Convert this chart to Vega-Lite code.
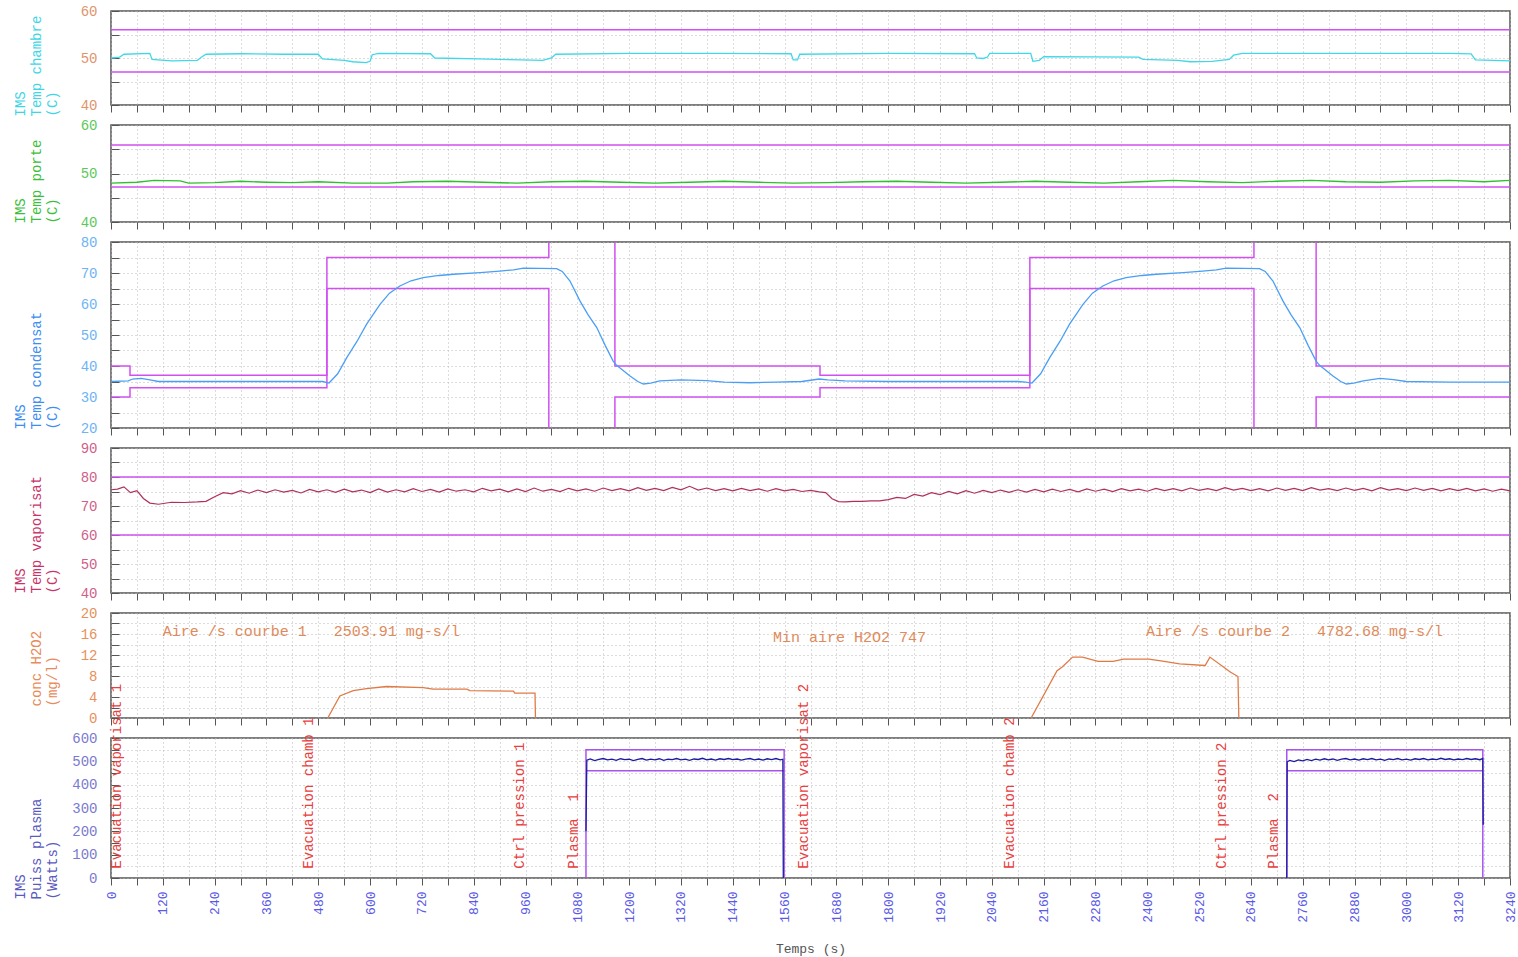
{
  "$schema": "https://vega.github.io/schema/vega-lite/v6.json",
  "background": "white",
  "padding": {"left": 12, "top": 3, "right": 4, "bottom": 2},
  "spacing": 20,
  "bounds": "flush",
  "datasets": {
    "chambre": [
      {"t":0,"v":50.0},{"t":20,"v":50.2},{"t":30,"v":50.8},{"t":90,"v":51.0},{"t":95,"v":49.7},{"t":140,"v":49.4},{"t":200,"v":49.5},{"t":210,"v":50.2},{"t":220,"v":50.8},{"t":300,"v":50.9},{"t":400,"v":50.8},{"t":480,"v":50.8},{"t":490,"v":49.8},{"t":540,"v":49.5},{"t":560,"v":49.2},{"t":590,"v":49.0},{"t":600,"v":49.3},{"t":605,"v":50.7},{"t":620,"v":51.0},{"t":740,"v":50.9},{"t":750,"v":50.0},{"t":850,"v":49.8},{"t":950,"v":49.6},{"t":1000,"v":49.5},{"t":1020,"v":50.0},{"t":1030,"v":50.8},{"t":1200,"v":51.0},{"t":1400,"v":51.0},{"t":1575,"v":50.9},{"t":1580,"v":49.6},{"t":1590,"v":49.6},{"t":1595,"v":50.8},{"t":1800,"v":51.0},{"t":2000,"v":50.9},{"t":2005,"v":50.0},{"t":2020,"v":49.9},{"t":2030,"v":50.2},{"t":2035,"v":51.0},{"t":2130,"v":51.0},{"t":2135,"v":49.3},{"t":2150,"v":49.5},{"t":2160,"v":50.3},{"t":2380,"v":50.2},{"t":2390,"v":49.7},{"t":2470,"v":49.5},{"t":2500,"v":49.2},{"t":2550,"v":49.3},{"t":2590,"v":49.7},{"t":2600,"v":50.6},{"t":2620,"v":51.0},{"t":3100,"v":51.0},{"t":3150,"v":50.9},{"t":3160,"v":49.6},{"t":3240,"v":49.4}
    ],
    "lim1": [
      {"t":0,"v":56,"seg":"a"},{"t":3240,"v":56,"seg":"a"},{"t":0,"v":47,"seg":"b"},{"t":3240,"v":47,"seg":"b"}
    ],
    "porte": [
      {"t":0,"v":48.0},{"t":60,"v":48.2},{"t":100,"v":48.6},{"t":160,"v":48.5},{"t":180,"v":48.0},{"t":240,"v":48.1},{"t":300,"v":48.4},{"t":360,"v":48.2},{"t":420,"v":48.1},{"t":480,"v":48.3},{"t":560,"v":48.0},{"t":640,"v":48.0},{"t":700,"v":48.3},{"t":780,"v":48.4},{"t":860,"v":48.2},{"t":940,"v":48.0},{"t":1020,"v":48.3},{"t":1100,"v":48.4},{"t":1180,"v":48.2},{"t":1260,"v":48.0},{"t":1340,"v":48.2},{"t":1420,"v":48.4},{"t":1500,"v":48.2},{"t":1580,"v":48.0},{"t":1660,"v":48.1},{"t":1740,"v":48.3},{"t":1820,"v":48.4},{"t":1900,"v":48.2},{"t":1980,"v":48.0},{"t":2060,"v":48.2},{"t":2140,"v":48.4},{"t":2220,"v":48.2},{"t":2300,"v":48.0},{"t":2380,"v":48.3},{"t":2460,"v":48.6},{"t":2540,"v":48.3},{"t":2620,"v":48.1},{"t":2700,"v":48.4},{"t":2780,"v":48.6},{"t":2860,"v":48.3},{"t":2940,"v":48.2},{"t":3020,"v":48.5},{"t":3100,"v":48.6},{"t":3180,"v":48.3},{"t":3240,"v":48.6}
    ],
    "lim2": [
      {"t":0,"v":55.9,"seg":"a"},{"t":3240,"v":55.9,"seg":"a"},{"t":0,"v":47.2,"seg":"b"},{"t":3240,"v":47.2,"seg":"b"}
    ],
    "condensat": [
      {"t":0,"v":35.0},{"t":40,"v":35.2},{"t":50,"v":35.8},{"t":70,"v":36.0},{"t":90,"v":35.5},{"t":110,"v":35.0},{"t":200,"v":35.0},{"t":300,"v":35.0},{"t":400,"v":35.0},{"t":490,"v":35.0},{"t":505,"v":34.5},{"t":525,"v":37.5},{"t":546,"v":42.7},{"t":570,"v":48.0},{"t":592,"v":53.5},{"t":623,"v":59.9},{"t":645,"v":63.5},{"t":669,"v":65.8},{"t":695,"v":67.5},{"t":723,"v":68.5},{"t":760,"v":69.2},{"t":793,"v":69.6},{"t":855,"v":70.1},{"t":900,"v":70.6},{"t":932,"v":71.0},{"t":955,"v":71.6},{"t":1032,"v":71.4},{"t":1045,"v":70.5},{"t":1063,"v":67.4},{"t":1086,"v":61.0},{"t":1105,"v":56.5},{"t":1125,"v":52.4},{"t":1145,"v":46.5},{"t":1163,"v":41.6},{"t":1171,"v":40.2},{"t":1202,"v":36.8},{"t":1220,"v":35.0},{"t":1233,"v":34.2},{"t":1250,"v":34.5},{"t":1271,"v":35.2},{"t":1320,"v":35.5},{"t":1380,"v":35.3},{"t":1420,"v":34.8},{"t":1480,"v":34.6},{"t":1540,"v":34.8},{"t":1600,"v":35.0},{"t":1640,"v":35.8},{"t":1660,"v":35.5},{"t":1700,"v":35.2},{"t":1800,"v":35.0},{"t":1900,"v":35.0},{"t":2000,"v":35.0},{"t":2100,"v":35.0},{"t":2118,"v":34.8},{"t":2133,"v":34.5},{"t":2153,"v":37.5},{"t":2174,"v":42.7},{"t":2198,"v":48.0},{"t":2220,"v":53.5},{"t":2251,"v":59.9},{"t":2273,"v":63.5},{"t":2297,"v":65.8},{"t":2323,"v":67.5},{"t":2351,"v":68.5},{"t":2388,"v":69.2},{"t":2421,"v":69.6},{"t":2483,"v":70.1},{"t":2528,"v":70.6},{"t":2560,"v":71.0},{"t":2583,"v":71.6},{"t":2660,"v":71.4},{"t":2673,"v":70.5},{"t":2691,"v":67.4},{"t":2714,"v":61.0},{"t":2733,"v":56.5},{"t":2753,"v":52.4},{"t":2773,"v":46.5},{"t":2791,"v":41.6},{"t":2799,"v":40.2},{"t":2830,"v":36.8},{"t":2848,"v":35.0},{"t":2861,"v":34.2},{"t":2878,"v":34.5},{"t":2900,"v":35.2},{"t":2939,"v":36.0},{"t":2970,"v":35.6},{"t":3000,"v":35.0},{"t":3100,"v":34.8},{"t":3240,"v":34.8}
    ],
    "lim3": [
      {"t":0,"v":40,"seg":"a"},{"t":44,"v":40,"seg":"a"},{"t":44,"v":37,"seg":"a"},{"t":500,"v":37,"seg":"a"},{"t":500,"v":75,"seg":"a"},{"t":1014,"v":75,"seg":"a"},{"t":1014,"v":80,"seg":"a"},
      {"t":1167,"v":80,"seg":"b"},{"t":1167,"v":40,"seg":"b"},{"t":1642,"v":40,"seg":"b"},{"t":1642,"v":37,"seg":"b"},{"t":2128,"v":37,"seg":"b"},{"t":2128,"v":75,"seg":"b"},{"t":2647,"v":75,"seg":"b"},{"t":2647,"v":80,"seg":"b"},
      {"t":2791,"v":80,"seg":"c"},{"t":2791,"v":40,"seg":"c"},{"t":3240,"v":40,"seg":"c"},
      {"t":0,"v":30,"seg":"d"},{"t":44,"v":30,"seg":"d"},{"t":44,"v":33,"seg":"d"},{"t":500,"v":33,"seg":"d"},{"t":500,"v":65,"seg":"d"},{"t":1014,"v":65,"seg":"d"},{"t":1014,"v":20,"seg":"d"},
      {"t":1167,"v":20,"seg":"e"},{"t":1167,"v":30,"seg":"e"},{"t":1642,"v":30,"seg":"e"},{"t":1642,"v":33,"seg":"e"},{"t":2128,"v":33,"seg":"e"},{"t":2128,"v":65,"seg":"e"},{"t":2647,"v":65,"seg":"e"},{"t":2647,"v":20,"seg":"e"},
      {"t":2791,"v":20,"seg":"f"},{"t":2791,"v":30,"seg":"f"},{"t":3240,"v":30,"seg":"f"}
    ],
    "vapo": [
      {"t":0,"v":75.6},{"t":15,"v":75.8},{"t":30,"v":76.6},{"t":45,"v":74.6},{"t":60,"v":75.3},{"t":75,"v":72.6},{"t":90,"v":71.0},{"t":110,"v":70.6},{"t":140,"v":71.3},{"t":170,"v":71.2},{"t":200,"v":71.4},{"t":220,"v":71.6},{"t":240,"v":73.2},{"t":260,"v":74.6},
      {"t":280,"v":74.2},{"t":300,"v":75.3},{"t":320,"v":74.4},{"t":340,"v":75.5},{"t":360,"v":74.6},{"t":380,"v":75.6},{"t":400,"v":74.8},{"t":420,"v":75.4},{"t":440,"v":74.5},{"t":460,"v":75.7},{"t":480,"v":74.9},{"t":500,"v":75.6},{"t":520,"v":74.7},{"t":540,"v":75.8},{"t":560,"v":74.9},{"t":580,"v":75.5},{"t":600,"v":74.6},{"t":620,"v":75.9},{"t":640,"v":74.8},{"t":660,"v":75.6},{"t":680,"v":74.9},{"t":700,"v":76.0},{"t":720,"v":75.0},{"t":740,"v":75.7},{"t":760,"v":74.8},{"t":780,"v":75.9},{"t":800,"v":75.1},{"t":820,"v":75.6},{"t":840,"v":74.9},{"t":860,"v":76.1},{"t":880,"v":75.2},{"t":900,"v":75.8},{"t":920,"v":74.9},{"t":940,"v":75.9},{"t":960,"v":75.0},{"t":980,"v":76.2},{"t":1000,"v":75.1},{"t":1020,"v":75.7},{"t":1040,"v":75.0},{"t":1060,"v":76.1},{"t":1080,"v":75.2},{"t":1100,"v":75.9},{"t":1120,"v":75.1},{"t":1140,"v":76.2},{"t":1160,"v":75.3},{"t":1180,"v":76.0},{"t":1200,"v":75.2},{"t":1220,"v":76.3},{"t":1240,"v":75.4},{"t":1260,"v":76.1},{"t":1280,"v":75.3},{"t":1300,"v":76.4},{"t":1320,"v":75.6},{"t":1340,"v":76.8},{"t":1360,"v":75.5},{"t":1380,"v":76.2},{"t":1400,"v":75.3},{"t":1420,"v":76.0},{"t":1440,"v":75.2},{"t":1460,"v":76.1},{"t":1480,"v":75.3},{"t":1500,"v":75.9},{"t":1520,"v":75.1},{"t":1540,"v":76.0},{"t":1560,"v":75.2},{"t":1580,"v":75.7},{"t":1600,"v":75.0},{"t":1620,"v":75.4},{"t":1640,"v":74.9},{"t":1655,"v":74.6},{"t":1670,"v":72.5},{"t":1685,"v":71.5},{"t":1700,"v":71.4},{"t":1720,"v":71.6},{"t":1740,"v":71.6},{"t":1760,"v":71.8},{"t":1780,"v":71.8},{"t":1800,"v":72.2},{"t":1820,"v":73.0},{"t":1840,"v":72.6},{"t":1860,"v":74.0},{"t":1880,"v":73.4},{"t":1900,"v":74.6},{"t":1920,"v":73.9},{"t":1940,"v":75.0},{"t":1960,"v":74.2},{"t":1980,"v":75.3},{"t":2000,"v":74.4},{"t":2020,"v":75.4},{"t":2040,"v":74.6},{"t":2060,"v":75.5},{"t":2080,"v":74.7},{"t":2100,"v":75.6},{"t":2120,"v":74.8},{"t":2140,"v":75.7},{"t":2160,"v":74.9},{"t":2180,"v":75.8},{"t":2200,"v":75.0},{"t":2220,"v":75.7},{"t":2240,"v":74.9},{"t":2260,"v":75.9},{"t":2280,"v":75.1},{"t":2300,"v":75.8},{"t":2320,"v":75.0},{"t":2340,"v":76.0},{"t":2360,"v":75.2},{"t":2380,"v":75.8},{"t":2400,"v":75.1},{"t":2420,"v":76.1},{"t":2440,"v":75.3},{"t":2460,"v":76.0},{"t":2480,"v":75.2},{"t":2500,"v":76.2},{"t":2520,"v":75.4},{"t":2540,"v":76.0},{"t":2560,"v":75.3},{"t":2580,"v":76.3},{"t":2600,"v":75.5},{"t":2620,"v":76.1},{"t":2640,"v":75.3},{"t":2660,"v":76.0},{"t":2680,"v":75.2},{"t":2700,"v":76.2},{"t":2720,"v":75.4},{"t":2740,"v":76.1},{"t":2760,"v":75.3},{"t":2780,"v":76.3},{"t":2800,"v":75.5},{"t":2820,"v":76.0},{"t":2840,"v":75.3},{"t":2860,"v":76.2},{"t":2880,"v":75.4},{"t":2900,"v":76.1},{"t":2920,"v":75.2},{"t":2940,"v":76.3},{"t":2960,"v":75.5},{"t":2980,"v":76.0},{"t":3000,"v":75.3},{"t":3020,"v":76.2},{"t":3040,"v":75.4},{"t":3060,"v":76.1},{"t":3080,"v":75.2},{"t":3100,"v":76.0},{"t":3120,"v":75.3},{"t":3140,"v":76.1},{"t":3160,"v":75.2},{"t":3180,"v":75.9},{"t":3200,"v":75.1},{"t":3220,"v":75.8},{"t":3240,"v":75.2}
    ],
    "lim4": [
      {"t":0,"v":80,"seg":"a"},{"t":3240,"v":80,"seg":"a"},{"t":0,"v":60,"seg":"b"},{"t":3240,"v":60,"seg":"b"}
    ],
    "h2o2": [
      {"t":502,"v":0,"seg":"a"},{"t":530,"v":4.2,"seg":"a"},{"t":561,"v":5.2,"seg":"a"},{"t":592,"v":5.6,"seg":"a"},{"t":638,"v":6.0,"seg":"a"},{"t":723,"v":5.8,"seg":"a"},{"t":746,"v":5.5,"seg":"a"},{"t":824,"v":5.5,"seg":"a"},{"t":831,"v":5.2,"seg":"a"},{"t":932,"v":5.1,"seg":"a"},{"t":935,"v":4.75,"seg":"a"},{"t":982,"v":4.75,"seg":"a"},{"t":983,"v":0,"seg":"a"},
      {"t":2131,"v":0,"seg":"b"},{"t":2191,"v":9.0,"seg":"b"},{"t":2203,"v":9.7,"seg":"b"},{"t":2227,"v":11.6,"seg":"b"},{"t":2250,"v":11.6,"seg":"b"},{"t":2286,"v":10.8,"seg":"b"},{"t":2321,"v":10.8,"seg":"b"},{"t":2345,"v":11.2,"seg":"b"},{"t":2404,"v":11.2,"seg":"b"},{"t":2439,"v":10.8,"seg":"b"},{"t":2475,"v":10.3,"seg":"b"},{"t":2534,"v":10.0,"seg":"b"},{"t":2545,"v":11.6,"seg":"b"},{"t":2593,"v":8.7,"seg":"b"},{"t":2610,"v":7.9,"seg":"b"},{"t":2612,"v":0,"seg":"b"}
    ],
    "notes": [
      {"t":120,"v":16.6,"label":"Aire /s courbe 1\u00a0\u00a0\u00a02503.91 mg-s/l"},
      {"t":1533,"v":15.4,"label":"Min aire H2O2 747"},
      {"t":2397,"v":16.6,"label":"Aire /s courbe 2\u00a0\u00a0\u00a04782.68 mg-s/l"}
    ],
    "plasma": [
      {"t":1100,"v":200,"seg":"a"},{"t":1102,"v":505,"seg":"a"},{"t":1110,"v":510,"seg":"a"},{"t":1120,"v":503,"seg":"a"},{"t":1130,"v":508,"seg":"a"},{"t":1140,"v":512,"seg":"a"},{"t":1150,"v":506,"seg":"a"},{"t":1160,"v":509,"seg":"a"},{"t":1170,"v":504,"seg":"a"},{"t":1180,"v":511,"seg":"a"},{"t":1190,"v":507,"seg":"a"},{"t":1200,"v":509,"seg":"a"},{"t":1210,"v":503,"seg":"a"},{"t":1220,"v":508,"seg":"a"},{"t":1230,"v":512,"seg":"a"},{"t":1240,"v":505,"seg":"a"},{"t":1250,"v":509,"seg":"a"},{"t":1260,"v":506,"seg":"a"},{"t":1270,"v":511,"seg":"a"},{"t":1280,"v":504,"seg":"a"},{"t":1290,"v":509,"seg":"a"},{"t":1300,"v":507,"seg":"a"},{"t":1310,"v":512,"seg":"a"},{"t":1320,"v":506,"seg":"a"},{"t":1330,"v":509,"seg":"a"},{"t":1340,"v":504,"seg":"a"},{"t":1350,"v":510,"seg":"a"},{"t":1360,"v":508,"seg":"a"},{"t":1370,"v":513,"seg":"a"},{"t":1380,"v":506,"seg":"a"},{"t":1390,"v":510,"seg":"a"},{"t":1400,"v":505,"seg":"a"},{"t":1410,"v":511,"seg":"a"},{"t":1420,"v":508,"seg":"a"},{"t":1430,"v":512,"seg":"a"},{"t":1440,"v":507,"seg":"a"},{"t":1450,"v":510,"seg":"a"},{"t":1460,"v":505,"seg":"a"},{"t":1470,"v":509,"seg":"a"},{"t":1480,"v":512,"seg":"a"},{"t":1490,"v":506,"seg":"a"},{"t":1500,"v":510,"seg":"a"},{"t":1510,"v":505,"seg":"a"},{"t":1520,"v":511,"seg":"a"},{"t":1530,"v":507,"seg":"a"},{"t":1540,"v":512,"seg":"a"},{"t":1550,"v":506,"seg":"a"},{"t":1556,"v":509,"seg":"a"},{"t":1557,"v":0,"seg":"a"},
      {"t":2723,"v":0,"seg":"b"},{"t":2724,"v":498,"seg":"b"},{"t":2730,"v":504,"seg":"b"},{"t":2740,"v":499,"seg":"b"},{"t":2750,"v":506,"seg":"b"},{"t":2760,"v":502,"seg":"b"},{"t":2770,"v":508,"seg":"b"},{"t":2780,"v":503,"seg":"b"},{"t":2790,"v":509,"seg":"b"},{"t":2800,"v":505,"seg":"b"},{"t":2810,"v":511,"seg":"b"},{"t":2820,"v":506,"seg":"b"},{"t":2830,"v":510,"seg":"b"},{"t":2840,"v":504,"seg":"b"},{"t":2850,"v":509,"seg":"b"},{"t":2860,"v":512,"seg":"b"},{"t":2870,"v":506,"seg":"b"},{"t":2880,"v":510,"seg":"b"},{"t":2890,"v":505,"seg":"b"},{"t":2900,"v":511,"seg":"b"},{"t":2910,"v":507,"seg":"b"},{"t":2920,"v":512,"seg":"b"},{"t":2930,"v":506,"seg":"b"},{"t":2940,"v":509,"seg":"b"},{"t":2950,"v":504,"seg":"b"},{"t":2960,"v":510,"seg":"b"},{"t":2970,"v":507,"seg":"b"},{"t":2980,"v":512,"seg":"b"},{"t":2990,"v":506,"seg":"b"},{"t":3000,"v":509,"seg":"b"},{"t":3010,"v":505,"seg":"b"},{"t":3020,"v":511,"seg":"b"},{"t":3030,"v":508,"seg":"b"},{"t":3040,"v":512,"seg":"b"},{"t":3050,"v":506,"seg":"b"},{"t":3060,"v":510,"seg":"b"},{"t":3070,"v":507,"seg":"b"},{"t":3080,"v":513,"seg":"b"},{"t":3090,"v":508,"seg":"b"},{"t":3100,"v":511,"seg":"b"},{"t":3110,"v":506,"seg":"b"},{"t":3120,"v":510,"seg":"b"},{"t":3130,"v":507,"seg":"b"},{"t":3140,"v":512,"seg":"b"},{"t":3150,"v":508,"seg":"b"},{"t":3160,"v":511,"seg":"b"},{"t":3170,"v":507,"seg":"b"},{"t":3177,"v":512,"seg":"b"},{"t":3178,"v":228,"seg":"b"}
    ],
    "lim6": [
      {"t":1100,"v":0,"seg":"a"},{"t":1100,"v":550,"seg":"a"},{"t":1559,"v":550,"seg":"a"},{"t":1559,"v":0,"seg":"a"},
      {"t":1100,"v":460,"seg":"b"},{"t":1559,"v":460,"seg":"b"},
      {"t":2723,"v":0,"seg":"c"},{"t":2723,"v":550,"seg":"c"},{"t":3177,"v":550,"seg":"c"},{"t":3177,"v":0,"seg":"c"},
      {"t":2723,"v":460,"seg":"d"},{"t":3177,"v":460,"seg":"d"}
    ],
    "events": [
      {"t":14,"v":40,"label":"Evacuation vaporisat 1"},
      {"t":459,"v":40,"label":"Evacuation chamb 1"},
      {"t":947,"v":40,"label":"Ctrl pression 1"},
      {"t":1072,"v":40,"label":"Plasma\u00a0\u00a01"},
      {"t":1605,"v":40,"label":"Evacuation vaporisat 2"},
      {"t":2082,"v":40,"label":"Evacuation chamb 2"},
      {"t":2573,"v":40,"label":"Ctrl pression 2"},
      {"t":2693,"v":40,"label":"Plasma\u00a0\u00a02"}
    ]
  },
  "vconcat": [
    {
      "width": 1399, "height": 94,
      "encoding": {
        "x": {"field": "t", "type": "quantitative", "scale": {"domain": [0, 3240], "nice": false, "zero": false},
          "axis": {"values": [0,60,120,180,240,300,360,420,480,540,600,660,720,780,840,900,960,1020,1080,1140,1200,1260,1320,1380,1440,1500,1560,1620,1680,1740,1800,1860,1920,1980,2040,2100,2160,2220,2280,2340,2400,2460,2520,2580,2640,2700,2760,2820,2880,2940,3000,3060,3120,3180,3240], "labels": false, "title": null}},
        "y": {"field": "v", "type": "quantitative", "scale": {"domain": [40, 60], "nice": false, "zero": false},
          "axis": {"values": [40,45,50,55,60], "labelExpr": "datum.value % 10 === 0 ? datum.label : ''", "labelColor": "#e0946e", "title": ["IMS", "Temp chambre", "(C)"], "titleColor": "#3ed6e6", "titleY": 105}}
      },
      "layer": [
        {"data": {"name": "lim1"}, "mark": {"type": "line", "color": "#d24ff2", "strokeWidth": 1.5}, "encoding": {"detail": {"field": "seg"}, "order": {"value": null}}},
        {"data": {"name": "chambre"}, "mark": {"type": "line", "color": "#40d8e8", "strokeWidth": 1.3}, "encoding": {"order": {"value": null}}}
      ]
    },
    {
      "width": 1399, "height": 97,
      "encoding": {
        "x": {"field": "t", "type": "quantitative", "scale": {"domain": [0, 3240], "nice": false, "zero": false},
          "axis": {"values": [0,60,120,180,240,300,360,420,480,540,600,660,720,780,840,900,960,1020,1080,1140,1200,1260,1320,1380,1440,1500,1560,1620,1680,1740,1800,1860,1920,1980,2040,2100,2160,2220,2280,2340,2400,2460,2520,2580,2640,2700,2760,2820,2880,2940,3000,3060,3120,3180,3240], "labels": false, "title": null}},
        "y": {"field": "v", "type": "quantitative", "scale": {"domain": [40, 60], "nice": false, "zero": false},
          "axis": {"values": [40,45,50,55,60], "labelExpr": "datum.value % 10 === 0 ? datum.label : ''", "labelColor": "#5cc85c", "title": ["IMS", "Temp porte", "(C)"], "titleColor": "#3cbf3c", "titleY": 98}}
      },
      "layer": [
        {"data": {"name": "lim2"}, "mark": {"type": "line", "color": "#d24ff2", "strokeWidth": 1.5}, "encoding": {"detail": {"field": "seg"}, "order": {"value": null}}},
        {"data": {"name": "porte"}, "mark": {"type": "line", "color": "#2fbf2f", "strokeWidth": 1.3}, "encoding": {"order": {"value": null}}}
      ]
    },
    {
      "width": 1399, "height": 186,
      "encoding": {
        "x": {"field": "t", "type": "quantitative", "scale": {"domain": [0, 3240], "nice": false, "zero": false},
          "axis": {"values": [0,60,120,180,240,300,360,420,480,540,600,660,720,780,840,900,960,1020,1080,1140,1200,1260,1320,1380,1440,1500,1560,1620,1680,1740,1800,1860,1920,1980,2040,2100,2160,2220,2280,2340,2400,2460,2520,2580,2640,2700,2760,2820,2880,2940,3000,3060,3120,3180,3240], "labels": false, "title": null}},
        "y": {"field": "v", "type": "quantitative", "scale": {"domain": [20, 80], "nice": false, "zero": false},
          "axis": {"values": [20,25,30,35,40,45,50,55,60,65,70,75,80], "labelExpr": "datum.value % 10 === 0 ? datum.label : ''", "labelColor": "#6eb4f5", "title": ["IMS", "Temp condensat", "(C)"], "titleColor": "#3c8ef0", "titleY": 187}}
      },
      "layer": [
        {"data": {"name": "lim3"}, "mark": {"type": "line", "color": "#d24ff2", "strokeWidth": 1.5}, "encoding": {"detail": {"field": "seg"}, "order": {"value": null}}},
        {"data": {"name": "condensat"}, "mark": {"type": "line", "color": "#4a9ff5", "strokeWidth": 1.3}, "encoding": {"order": {"value": null}}}
      ]
    },
    {
      "width": 1399, "height": 145,
      "encoding": {
        "x": {"field": "t", "type": "quantitative", "scale": {"domain": [0, 3240], "nice": false, "zero": false},
          "axis": {"values": [0,60,120,180,240,300,360,420,480,540,600,660,720,780,840,900,960,1020,1080,1140,1200,1260,1320,1380,1440,1500,1560,1620,1680,1740,1800,1860,1920,1980,2040,2100,2160,2220,2280,2340,2400,2460,2520,2580,2640,2700,2760,2820,2880,2940,3000,3060,3120,3180,3240], "labels": false, "title": null}},
        "y": {"field": "v", "type": "quantitative", "scale": {"domain": [40, 90], "nice": false, "zero": false},
          "axis": {"values": [40,45,50,55,60,65,70,75,80,85,90], "labelExpr": "datum.value % 10 === 0 ? datum.label : ''", "labelColor": "#d0608a", "title": ["IMS", "Temp vaporisat", "(C)"], "titleColor": "#c8346a", "titleY": 145}}
      },
      "layer": [
        {"data": {"name": "lim4"}, "mark": {"type": "line", "color": "#d24ff2", "strokeWidth": 1.5}, "encoding": {"detail": {"field": "seg"}, "order": {"value": null}}},
        {"data": {"name": "vapo"}, "mark": {"type": "line", "color": "#b0305c", "strokeWidth": 1.2}, "encoding": {"order": {"value": null}}}
      ]
    },
    {
      "width": 1399, "height": 105,
      "encoding": {
        "x": {"field": "t", "type": "quantitative", "scale": {"domain": [0, 3240], "nice": false, "zero": false},
          "axis": {"values": [0,60,120,180,240,300,360,420,480,540,600,660,720,780,840,900,960,1020,1080,1140,1200,1260,1320,1380,1440,1500,1560,1620,1680,1740,1800,1860,1920,1980,2040,2100,2160,2220,2280,2340,2400,2460,2520,2580,2640,2700,2760,2820,2880,2940,3000,3060,3120,3180,3240], "labels": false, "title": null}},
        "y": {"field": "v", "type": "quantitative", "scale": {"domain": [0, 20], "nice": false, "zero": false},
          "axis": {"values": [0,2,4,6,8,10,12,14,16,18,20], "labelExpr": "datum.value % 4 === 0 ? datum.label : ''", "labelColor": "#e8905c", "title": ["conc H2O2", "(mg/l)"], "titleColor": "#e88a5a", "titleY": 93, "titleX": -68}}
      },
      "layer": [
        {"data": {"name": "h2o2"}, "mark": {"type": "line", "color": "#e07a45", "strokeWidth": 1.3}, "encoding": {"detail": {"field": "seg"}, "order": {"value": null}}},
        {"data": {"name": "notes"}, "mark": {"type": "text", "color": "#e08a5a", "align": "left", "baseline": "middle", "font": "Liberation Mono", "fontSize": 15}, "encoding": {"text": {"field": "label"}}}
      ]
    },
    {
      "width": 1399, "height": 140,
      "encoding": {
        "x": {"field": "t", "type": "quantitative", "scale": {"domain": [0, 3240], "nice": false, "zero": false},
          "axis": {"values": [0,60,120,180,240,300,360,420,480,540,600,660,720,780,840,900,960,1020,1080,1140,1200,1260,1320,1380,1440,1500,1560,1620,1680,1740,1800,1860,1920,1980,2040,2100,2160,2220,2280,2340,2400,2460,2520,2580,2640,2700,2760,2820,2880,2940,3000,3060,3120,3180,3240], "format": "d", "labelExpr": "datum.value % 120 === 0 ? datum.label : ''", "labelAngle": 270, "labelColor": "#5a5ae6", "labelFontSize": 13, "labelPadding": 6, "title": "Temps (s)", "titleColor": "#555555", "titleFontSize": 13, "titlePadding": 20}},
        "y": {"field": "v", "type": "quantitative", "scale": {"domain": [0, 600], "nice": false, "zero": false},
          "axis": {"values": [0,50,100,150,200,250,300,350,400,450,500,550,600], "labelExpr": "datum.value % 100 === 0 ? datum.label : ''", "labelColor": "#7a7ad0", "title": ["IMS", "Puiss plasma", "(Watts)"], "titleColor": "#5a5ac0", "titleY": 161}}
      },
      "layer": [
        {"data": {"name": "lim6"}, "mark": {"type": "line", "color": "#a855f0", "strokeWidth": 1.5}, "encoding": {"detail": {"field": "seg"}, "order": {"value": null}}},
        {"data": {"name": "plasma"}, "mark": {"type": "line", "color": "#1c1ca0", "strokeWidth": 1.3}, "encoding": {"detail": {"field": "seg"}, "order": {"value": null}}},
        {"data": {"name": "events"}, "mark": {"type": "text", "color": "#e84040", "angle": 270, "align": "left", "baseline": "middle", "font": "Liberation Mono", "fontSize": 14}, "encoding": {"text": {"field": "label"}}}
      ]
    }
  ],
  "config": {
    "view": {"stroke": "#555555", "strokeWidth": 1.5},
    "font": "Liberation Mono",
    "axis": {
      "domain": false,
      "grid": true,
      "gridColor": "#b8b8b8",
      "gridDash": [1, 3],
      "tickColor": "#555555",
      "labelFont": "Liberation Mono",
      "titleFont": "Liberation Mono",
      "labelFontSize": 14,
      "titleFontSize": 14,
      "titleFontWeight": "normal",
      "labelOverlap": false,
      "labelFlush": false
    },
    "axisX": {"tickSize": 7},
    "axisY": {"tickSize": -8, "labelPadding": 22, "titleAngle": 270, "titleAlign": "left", "titleBaseline": "bottom", "titleX": -84, "titleLineHeight": 16}
  }
}
